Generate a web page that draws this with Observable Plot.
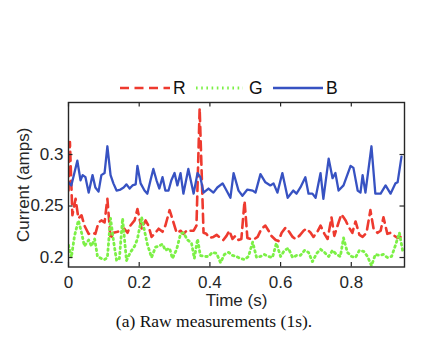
<!DOCTYPE html>
<html>
<head>
<meta charset="utf-8">
<script src="https://cdn.jsdelivr.net/npm/d3@7"></script>
<script src="https://cdn.jsdelivr.net/npm/@observablehq/plot@0.6"></script>
<style>
  html, body { margin: 0; padding: 0; background: #fff; }
  #wrap { position: relative; width: 428px; height: 360px; overflow: hidden; font-family: "Liberation Sans", Arial, Helvetica, sans-serif; }
  #legend { position: absolute; left: 0; top: 76px; width: 428px; height: 24px; }
  #legend .lab { position: absolute; top: 0; font-size: 17.5px; line-height: 24px; color: #111; }
  #caption { position: absolute; left: 0; width: 428px; top: 311px; text-align: center; font-family: "Liberation Serif", "Times New Roman", serif; font-size: 17.5px; line-height: 20px; color: #111; }
</style>
</head>
<body>
<div id="wrap">
  <div id="chart"></div>
  <div id="legend"></div>
  <div id="caption">(a) Raw measurements (1s).</div>
</div>
<script>
// ---- data (time in s, current in amps) ----
const seriesNames = ["R", "G", "B"];
const seriesColors = ["#ee3a2f", "#7cf046", "#3752c2"];

const timeR = [0.000,0.004,0.011,0.020,0.028,0.037,0.045,0.057,0.068,0.076,0.085,0.093,0.102,0.110,0.119,0.127,0.139,0.147,0.158,0.167,0.175,0.187,0.195,0.207,0.218,0.226,0.235,0.246,0.255,0.266,0.274,0.286,0.297,0.306,0.317,0.325,0.337,0.345,0.354,0.362,0.371,0.382,0.390,0.399,0.410,0.419,0.430,0.438,0.447,0.455,0.464,0.472,0.481,0.489,0.498,0.506,0.515,0.526,0.535,0.546,0.557,0.566,0.574,0.586,0.594,0.603,0.614,0.622,0.634,0.642,0.653,0.665,0.673,0.685,0.693,0.704,0.713,0.724,0.733,0.744,0.752,0.764,0.772,0.784,0.792,0.803,0.812,0.823,0.832,0.843,0.854,0.863,0.874,0.883,0.891,0.902,0.911,0.922,0.931,0.939];
const valueR = [0.265,0.312,0.241,0.257,0.238,0.241,0.231,0.223,0.224,0.223,0.234,0.236,0.234,0.257,0.218,0.224,0.225,0.226,0.228,0.224,0.231,0.236,0.247,0.228,0.236,0.231,0.220,0.224,0.228,0.225,0.231,0.246,0.234,0.224,0.226,0.223,0.227,0.226,0.226,0.231,0.345,0.224,0.223,0.219,0.220,0.222,0.219,0.217,0.221,0.226,0.218,0.221,0.217,0.218,0.255,0.219,0.218,0.218,0.220,0.228,0.231,0.226,0.221,0.217,0.216,0.224,0.229,0.226,0.220,0.218,0.221,0.226,0.228,0.224,0.220,0.225,0.231,0.223,0.218,0.239,0.221,0.234,0.242,0.236,0.230,0.224,0.235,0.222,0.220,0.224,0.246,0.228,0.224,0.226,0.239,0.223,0.224,0.221,0.219,0.220];

const timeG = [0.000,0.008,0.017,0.028,0.037,0.045,0.057,0.065,0.074,0.082,0.093,0.102,0.110,0.119,0.127,0.136,0.144,0.153,0.164,0.175,0.187,0.195,0.207,0.215,0.223,0.235,0.246,0.255,0.266,0.274,0.286,0.294,0.306,0.317,0.325,0.337,0.348,0.356,0.365,0.373,0.385,0.396,0.407,0.419,0.430,0.441,0.453,0.464,0.475,0.487,0.498,0.509,0.521,0.532,0.543,0.554,0.566,0.577,0.588,0.600,0.611,0.622,0.634,0.645,0.656,0.668,0.679,0.690,0.702,0.713,0.724,0.736,0.747,0.758,0.769,0.778,0.789,0.801,0.812,0.823,0.835,0.846,0.857,0.868,0.880,0.891,0.902,0.914,0.925,0.936,0.945];
const valueG = [0.212,0.200,0.221,0.236,0.224,0.211,0.217,0.211,0.218,0.201,0.199,0.198,0.200,0.238,0.217,0.197,0.199,0.238,0.197,0.205,0.211,0.218,0.239,0.226,0.213,0.200,0.210,0.211,0.213,0.207,0.209,0.199,0.208,0.223,0.224,0.217,0.214,0.199,0.218,0.202,0.201,0.201,0.205,0.204,0.195,0.203,0.205,0.202,0.201,0.199,0.198,0.201,0.215,0.200,0.201,0.203,0.201,0.200,0.214,0.201,0.207,0.209,0.200,0.202,0.202,0.207,0.205,0.196,0.204,0.208,0.205,0.201,0.207,0.203,0.201,0.219,0.205,0.201,0.200,0.207,0.206,0.201,0.192,0.203,0.202,0.203,0.200,0.201,0.212,0.224,0.207];

const timeB = [0.000,0.008,0.025,0.034,0.040,0.048,0.057,0.068,0.076,0.085,0.093,0.102,0.110,0.119,0.127,0.136,0.147,0.156,0.164,0.173,0.181,0.190,0.195,0.204,0.215,0.223,0.232,0.240,0.249,0.257,0.266,0.274,0.283,0.291,0.300,0.308,0.317,0.325,0.339,0.354,0.365,0.373,0.382,0.396,0.410,0.421,0.436,0.444,0.458,0.467,0.481,0.492,0.506,0.521,0.529,0.543,0.557,0.571,0.580,0.591,0.605,0.620,0.636,0.645,0.656,0.670,0.679,0.690,0.699,0.713,0.721,0.736,0.747,0.755,0.764,0.778,0.798,0.806,0.818,0.826,0.832,0.840,0.857,0.868,0.883,0.897,0.911,0.925,0.931,0.942];
const valueB = [0.273,0.270,0.294,0.275,0.280,0.278,0.263,0.280,0.268,0.264,0.280,0.282,0.308,0.280,0.272,0.265,0.266,0.268,0.271,0.267,0.270,0.271,0.289,0.272,0.265,0.262,0.275,0.286,0.275,0.267,0.278,0.265,0.265,0.275,0.282,0.270,0.282,0.262,0.286,0.262,0.282,0.278,0.263,0.267,0.263,0.268,0.272,0.267,0.258,0.282,0.265,0.260,0.266,0.265,0.263,0.281,0.273,0.270,0.272,0.263,0.282,0.258,0.265,0.262,0.268,0.278,0.262,0.262,0.258,0.282,0.257,0.296,0.277,0.282,0.265,0.270,0.289,0.287,0.265,0.263,0.280,0.263,0.308,0.262,0.262,0.270,0.262,0.272,0.273,0.298];

const xTicks = [0, 0.2, 0.4, 0.6, 0.8];
const yTicks = [0.2, 0.25, 0.3];
const xDomain = [0, 0.9505];
const yDomain = [0.1908, 0.3505];

// ---- build table ----
const rows = [];
[[timeR, valueR, "R"], [timeG, valueG, "G"], [timeB, valueB, "B"]].forEach(([ts, vs, s]) => {
  ts.forEach((t, i) => rows.push({t, v: vs[i], s}));
});
const bySeries = s => rows.filter(d => d.s === s);

const W = 428, H = 360, mL = 68, mR = 24, mT = 102, mB = 93.5;
const fw = W - mL - mR, fh = H - mT - mB;
const tickLen = 4.5;
const axisColor = "#262626";
const dashR = "9,5.5";
const dotG = "1.6,3.6";
const fs = 17;

const chart = Plot.plot({
  width: W, height: H,
  marginLeft: mL, marginRight: mR, marginTop: mT, marginBottom: mB,
  style: { fontFamily: "'Liberation Sans', Arial, Helvetica, sans-serif", fontSize: fs + "px", color: axisColor, background: "white" },
  x: { domain: xDomain },
  y: { domain: yDomain },
  marks: [
    Plot.line(bySeries("R"), { x: "t", y: "v", stroke: seriesColors[0], strokeWidth: 2.6, strokeDasharray: dashR, clip: true }),
    Plot.line(bySeries("G"), { x: "t", y: "v", stroke: seriesColors[1], strokeWidth: 2.8, strokeDasharray: dotG, clip: true }),
    Plot.line(bySeries("B"), { x: "t", y: "v", stroke: seriesColors[2], strokeWidth: 2.3, clip: true }),
    // inward ticks (box style)
    Plot.tickX(xTicks, { x: d => d, stroke: axisColor, strokeWidth: 1.2, insetTop: fh - tickLen }),
    Plot.tickX(xTicks, { x: d => d, stroke: axisColor, strokeWidth: 1.2, insetBottom: fh - tickLen }),
    Plot.tickY(yTicks, { y: d => d, stroke: axisColor, strokeWidth: 1.2, insetRight: fw - tickLen }),
    Plot.tickY(yTicks, { y: d => d, stroke: axisColor, strokeWidth: 1.2, insetLeft: fw - tickLen }),
    Plot.frame({ stroke: axisColor, strokeWidth: 1.4 }),
    Plot.axisX(xTicks, { tickSize: 0, tickPadding: 9, fontSize: fs, tickFormat: d => String(d),
      label: "Time (s)", labelAnchor: "center", labelOffset: 39, labelArrow: false }),
    Plot.axisY(yTicks, { tickSize: 0, tickPadding: 5, fontSize: fs, tickFormat: d => String(d),
      label: "Current (amps)", labelAnchor: "center", labelOffset: 52, labelArrow: false })
  ]
});
document.getElementById("chart").appendChild(chart);

// ---- legend ----
const legend = document.getElementById("legend");
const legendItems = [
  { name: seriesNames[0], color: seriesColors[0], dash: dashR, w: 2.6, x0: 120, x1: 170, tx: 173 },
  { name: seriesNames[1], color: seriesColors[1], dash: dotG, w: 2.8, x0: 196, x1: 243, tx: 249 },
  { name: seriesNames[2], color: seriesColors[2], dash: null, w: 2.3, x0: 273, x1: 323, tx: 326 }
];
const ns = "http://www.w3.org/2000/svg";
const lsvg = document.createElementNS(ns, "svg");
lsvg.setAttribute("width", W); lsvg.setAttribute("height", 24);
lsvg.style.position = "absolute"; lsvg.style.left = "0"; lsvg.style.top = "0";
legendItems.forEach(it => {
  const ln = document.createElementNS(ns, "line");
  ln.setAttribute("x1", it.x0); ln.setAttribute("x2", it.x1);
  ln.setAttribute("y1", 12); ln.setAttribute("y2", 12);
  ln.setAttribute("stroke", it.color); ln.setAttribute("stroke-width", it.w);
  if (it.dash) ln.setAttribute("stroke-dasharray", it.dash);
  lsvg.appendChild(ln);
  const sp = document.createElement("span");
  sp.className = "lab"; sp.textContent = it.name; sp.style.left = it.tx + "px";
  legend.appendChild(sp);
});
legend.appendChild(lsvg);
</script>
</body>
</html>
